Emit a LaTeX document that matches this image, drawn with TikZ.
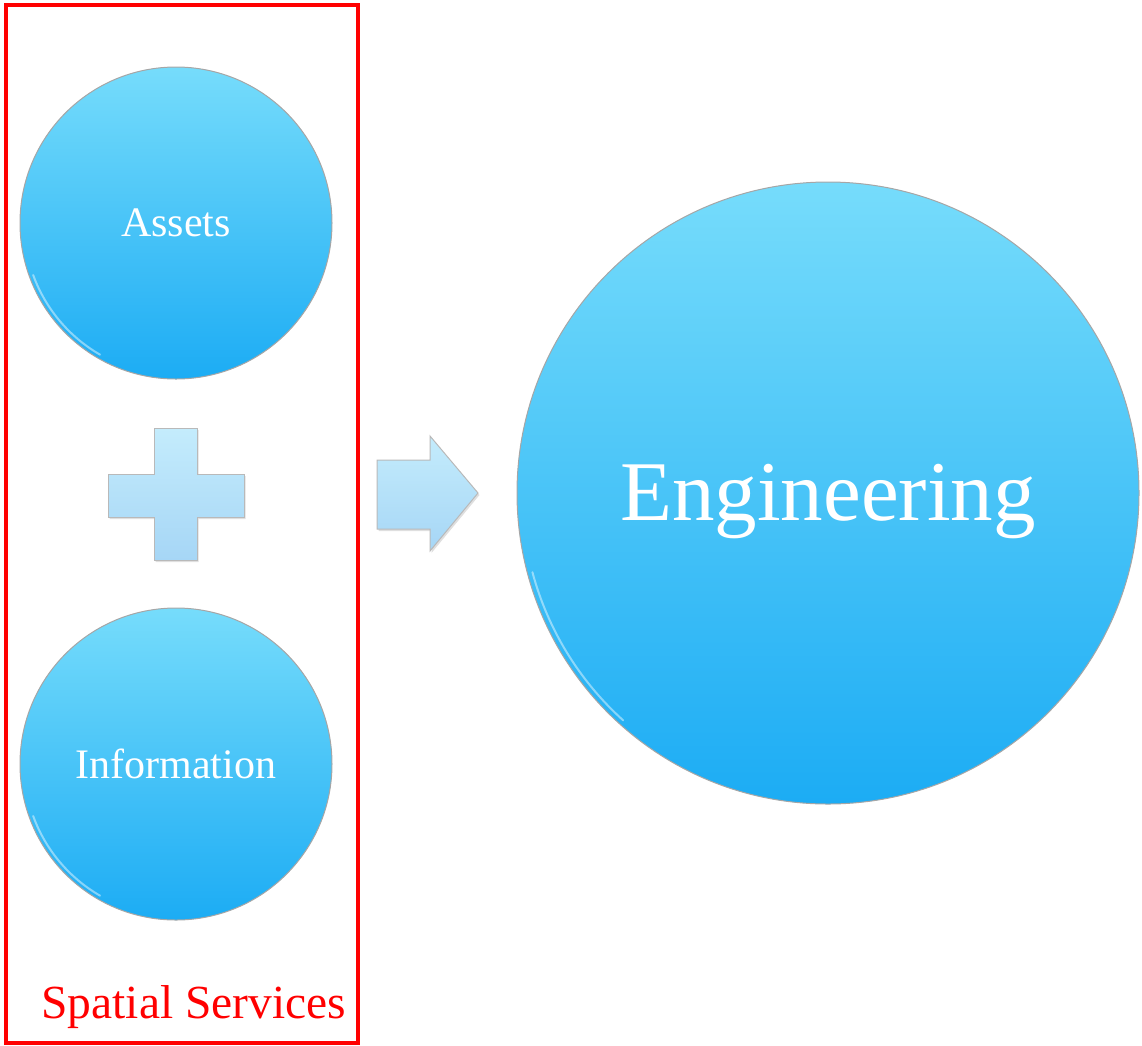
\documentclass[tikz,border=0pt]{standalone}
\usepackage{fontspec}
\setmainfont{Liberation Serif}
\usetikzlibrary{shadows}
\definecolor{ctop}{RGB}{118,220,251}
\definecolor{cbot}{RGB}{28,172,244}
\definecolor{ptop}{RGB}{196,236,252}
\definecolor{pbot}{RGB}{166,214,246}
\definecolor{redbox}{RGB}{255,0,0}
\tikzset{
  ball/.style={circle, inner sep=0pt, top color=ctop, bottom color=cbot, draw=gray!70, line width=1pt, text=white},
  glyph/.style={top color=ptop, bottom color=pbot, draw=gray!55, line width=1pt, drop shadow={opacity=0.25, shadow xshift=1.5pt, shadow yshift=-2pt}},
  gloss/.style={white, opacity=0.45, line width=2pt, line cap=round}
}
\begin{document}
\begin{tikzpicture}[x=1pt,y=-1pt]
\useasboundingbox (0,0) rectangle (1142,1045);
% red frame
\node[draw=redbox, line width=4pt, minimum width=352pt, minimum height=1038pt, inner sep=0pt, anchor=north west] (frame) at (4,3) {};
\node[text=redbox, font=\fontsize{47.5}{50}\selectfont, anchor=base west] (lbl) at (38,1018) {Spatial Services};
% circles
\node[ball, minimum size=312pt, font=\fontsize{42}{44}\selectfont] (assets) at (176,223) {Assets};
\node[ball, minimum size=312pt, font=\fontsize{42}{44}\selectfont] (info) at (176,764) {Information};
\node[ball, minimum size=622pt] (eng) at (828,493) {};
\node[text=white, font=\fontsize{85}{88}\selectfont, anchor=base] (engtext) at (828,520) {Engineering};
% gloss highlights
\draw[gloss] ([shift={(200:152pt)}]assets.center) arc[start angle=200, end angle=240, radius=152pt];
\draw[gloss] ([shift={(200:152pt)}]info.center) arc[start angle=200, end angle=240, radius=152pt];
\draw[gloss] ([shift={(195:306pt)}]eng.center) arc[start angle=195, end angle=228, radius=306pt];
% plus
\path[glyph] (154,428) -- (197,428) -- (197,474) -- (244,474) -- (244,517) -- (197,517) -- (197,560) -- (154,560) -- (154,517) -- (108,517) -- (108,474) -- (154,474) -- cycle;
% arrow
\path[glyph] (377,460) -- (430,460) -- (430,436) -- (478,493) -- (430,551) -- (430,529) -- (377,529) -- cycle;
\end{tikzpicture}
\end{document}
